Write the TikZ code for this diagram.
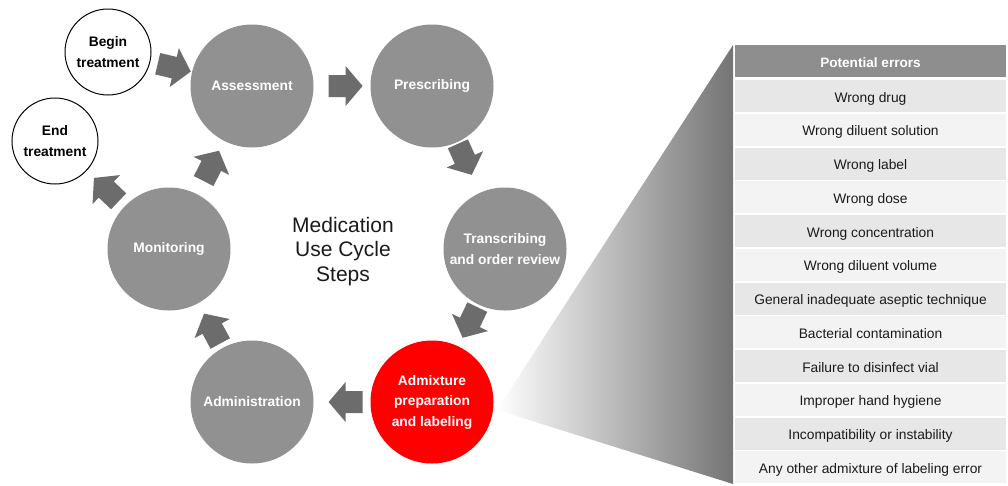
\documentclass[tikz,border=0pt]{standalone}
\usepackage{fontspec}
\setmainfont{Liberation Sans}
\usetikzlibrary{calc}
\definecolor{cgray}{HTML}{919191}
\definecolor{agray}{HTML}{6C6C6C}
\definecolor{cred}{HTML}{FF0000}
\definecolor{hgray}{HTML}{8E8E8E}
\definecolor{rowa}{HTML}{E7E7E7}
\definecolor{rowb}{HTML}{F3F3F3}
\definecolor{fan}{HTML}{747474}
\definecolor{txt}{HTML}{1A1A1A}
\newcommand\blockarr[3]{\path let \p1=(#1.center), \p2=(#2.center), \n1={atan2(\y2-\y1,\x2-\x1)} in ($(#1.center)!#3!(#2.center)$) pic[rotate=\n1]{barrow};}
\begin{document}
\begin{tikzpicture}[x=1pt,y=-1pt,
  stepcircle/.style={circle, fill=cgray, minimum size=123pt, inner sep=0pt, text=white, font=\fontsize{13.8}{20.5}\selectfont\bfseries, align=center},
  redcircle/.style={stepcircle, fill=cred},
  endcircle/.style={circle, draw=black, line width=1pt, fill=white, minimum size=86pt, inner sep=0pt, text=black, font=\fontsize{13.8}{21}\selectfont\bfseries, align=center},
  barrow/.pic={\fill[agray] (-17,-11) -- (0,-11) -- (0,-20) -- (17,0) -- (0,20) -- (0,11) -- (-17,11) -- cycle;},
  headrow/.style={fill=hgray, minimum width=271pt, minimum height=32pt, inner sep=0pt, text height=12pt, text depth=0pt, text=white, font=\fontsize{13.6}{16}\selectfont\bfseries},
  rowA/.style={fill=rowa, minimum width=271pt, minimum height=32pt, inner sep=0pt, text height=12pt, text depth=0pt, text=txt, font=\fontsize{13.8}{16}\selectfont},
  rowB/.style={rowA, fill=rowb},
  titletext/.style={align=center, font=\fontsize{21}{24.5}\selectfont, text=txt}]
\useasboundingbox (0,0) rectangle (1008,485);

% fan shape
\shade[left color=white, right color=fan] (497,410) -- (733,45) -- (733,484) -- cycle;

% circles
\node[stepcircle] (assess) at (252,86) {Assessment};
\node[stepcircle] (prescr) at (432,86) {Prescribing};
\node[stepcircle] (transc) at (505,249) {Transcribing\\and order review};
\node[redcircle]  (admix)  at (432,402) {Admixture\\preparation\\and labeling};
\node[stepcircle] (admin)  at (252,402) {Administration};
\node[stepcircle] (monit)  at (169,249) {Monitoring};
\node[endcircle]  (begin)  at (108,52) {Begin\\treatment};
\node[endcircle]  (endt)   at (55,141) {End\\treatment};

\node[titletext] (title) at (343,251.5) {Medication\\Use Cycle\\Steps};

% block arrows
\blockarr{begin}{assess}{0.46}
\blockarr{assess}{prescr}{0.52}
\blockarr{prescr}{transc}{0.45}
\blockarr{transc}{admix}{0.48}
\blockarr{admix}{admin}{0.48}
\blockarr{admin}{monit}{0.48}
\blockarr{monit}{assess}{0.51}
\blockarr{monit}{endt}{0.55}

% table
\node[headrow] (head) at (870.5,61) {Potential errors};
\node[rowA] (r1)  at (870.5,96.00)  {Wrong drug};
\node[rowB] (r2)  at (870.5,129.75) {Wrong diluent solution};
\node[rowA] (r3)  at (870.5,163.50) {Wrong label};
\node[rowB] (r4)  at (870.5,197.25) {Wrong dose};
\node[rowA] (r5)  at (870.5,231.00) {Wrong concentration};
\node[rowB] (r6)  at (870.5,264.75) {Wrong diluent volume};
\node[rowA] (r7)  at (870.5,298.50) {General inadequate aseptic technique};
\node[rowB] (r8)  at (870.5,332.25) {Bacterial contamination};
\node[rowA] (r9)  at (870.5,366.00) {Failure to disinfect vial};
\node[rowB] (r10) at (870.5,399.75) {Improper hand hygiene};
\node[rowA] (r11) at (870.5,433.50) {Incompatibility or instability};
\node[rowB] (r12) at (870.5,467.25) {Any other admixture of labeling error};
\end{tikzpicture}
\end{document}
